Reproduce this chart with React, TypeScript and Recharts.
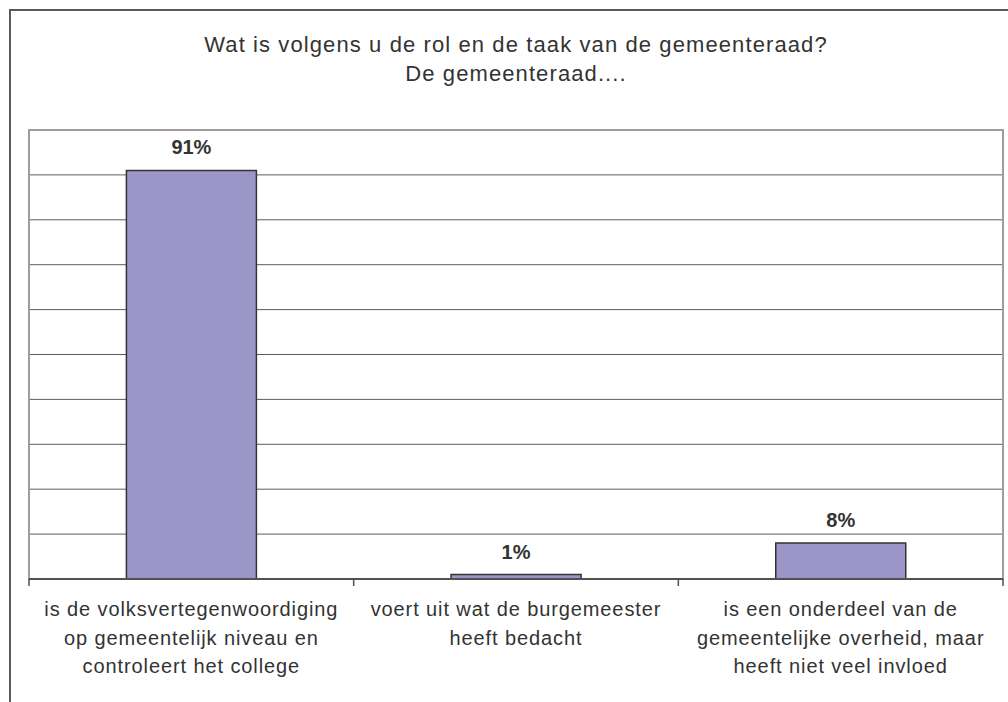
import { BarChart, Bar, XAxis, YAxis, CartesianGrid, LabelList, ReferenceArea } from "recharts"

const titleLines = ["Wat is volgens u de rol en de taak van de gemeenteraad?", "De gemeenteraad...."]

const categories = [
  "is de volksvertegenwoordiging\nop gemeentelijk niveau en\ncontroleert het college",
  "voert uit wat de burgemeester\nheeft bedacht",
  "is een onderdeel van de\ngemeentelijke overheid, maar\nheeft niet veel invloed",
]

const percentages = [91, 1, 8]

const gridTicks = [10, 20, 30, 40, 50, 60, 70, 80, 90]

const data = categories.map((category, i) => ({ category, value: percentages[i] }))

const chartW = 1008
const chartH = 702
const axisH = 100
const margin = { top: 130, right: 5, bottom: 23, left: 29 }
const bandW = (chartW - margin.left - margin.right) / categories.length
const font = "'Liberation Sans', Arial, sans-serif"
const textColor = "#333333"

// labels onder de as, met de streepjes op de grenzen van de categorieën
function CategoryTick(props: any) {
  const { x, y, payload } = props
  const index = props.index ?? payload.index
  const lines = String(payload.value).split("\n")
  const left = x - bandW / 2
  const right = x + bandW / 2
  return (
    <g>
      <line x1={left} y1={y} x2={left} y2={y + 7} stroke="#554f4f" strokeWidth={1.5} />
      {index === categories.length - 1 && (
        <line x1={right} y1={y} x2={right} y2={y + 7} stroke="#554f4f" strokeWidth={1.5} />
      )}
      <text
        x={x}
        y={y + 37}
        textAnchor="middle"
        fill={textColor}
        fontSize={20}
        fontFamily={font}
        style={{ letterSpacing: "0.9px" }}
      >
        {lines.map((line, i) => (
          <tspan key={i} x={x} dy={i === 0 ? 0 : 28.5}>
            {line}
          </tspan>
        ))}
      </text>
    </g>
  )
}

export default function App() {
  return (
    <div style={{ position: "absolute", left: 0, top: 0, width: chartW, height: chartH, background: "#fff", overflow: "hidden" }}>
      <div
        style={{
          position: "absolute",
          left: 9,
          top: 9,
          width: chartW,
          height: chartH,
          borderLeft: "2px solid #5a5a5a",
          borderTop: "2px solid #5a5a5a",
        }}
      />
      <div
        style={{
          position: "absolute",
          left: margin.left,
          top: 30,
          width: chartW - margin.left - margin.right,
          textAlign: "center",
          fontFamily: font,
          fontSize: 22,
          lineHeight: "29px",
          letterSpacing: "1.1px",
          color: textColor,
        }}
      >
        {titleLines.map((t) => (
          <div key={t}>{t}</div>
        ))}
      </div>
      <div style={{ position: "absolute", left: 0, top: 0 }}>
        <BarChart width={chartW} height={chartH} data={data} margin={margin} barCategoryGap="30%">
          <CartesianGrid vertical={false} stroke="#5c5c5c" strokeWidth={1} />
          <YAxis hide domain={[0, 100]} ticks={gridTicks} />
          <XAxis
            dataKey="category"
            interval={0}
            height={axisH}
            tickLine={false}
            tickSize={0}
            tickMargin={0}
            axisLine={{ stroke: "#554f4f", strokeWidth: 2 }}
            tick={<CategoryTick />}
          />
          <ReferenceArea
            x1={categories[0]}
            x2={categories[categories.length - 1]}
            y1={0}
            y2={100}
            fill="none"
            fillOpacity={0}
            stroke="#a39b9b"
            strokeWidth={2}
          />
          <Bar dataKey="value" fill="#9c96c8" stroke="#333" strokeWidth={1.5} isAnimationActive={false}>
            <LabelList
              dataKey="value"
              position="top"
              offset={16}
              formatter={(v: any) => `${v}%`}
              style={{ fontFamily: font, fontSize: 20, fontWeight: "bold", fill: textColor }}
            />
          </Bar>
        </BarChart>
      </div>
    </div>
  )
}
